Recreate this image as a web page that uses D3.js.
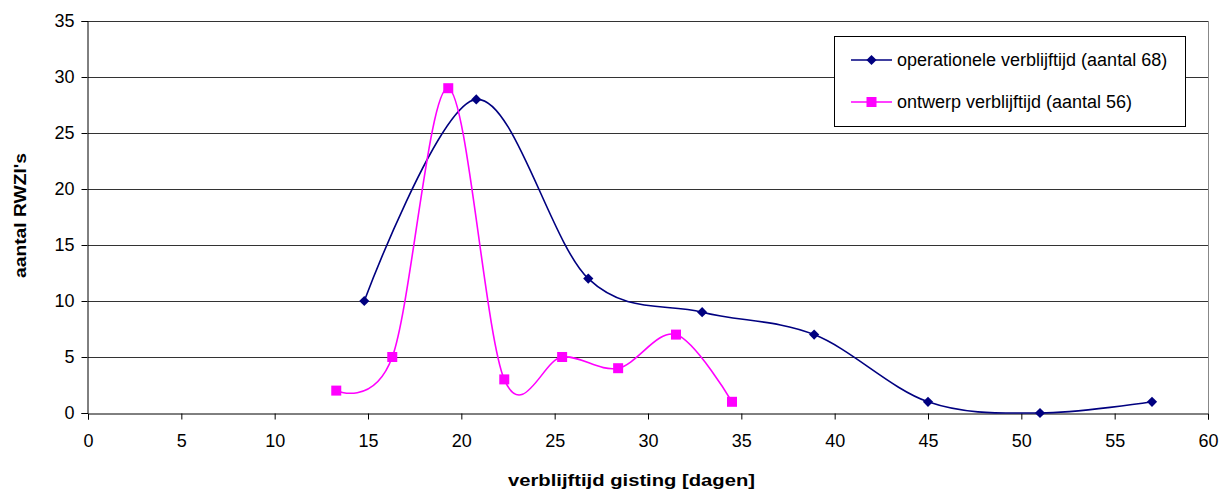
<!DOCTYPE html>
<html>
<head>
<meta charset="utf-8">
<script src="https://cdn.jsdelivr.net/npm/d3@7"></script>
<style>
  html, body { margin: 0; padding: 0; background: #fff; }
  svg { display: block; }
  text { font-family: "Liberation Sans", Arial, sans-serif; fill: #000; }
</style>
</head>
<body>
<svg id="chart" width="1230" height="492"></svg>
<script>
// ---- data ----
const opX = [14.8, 20.8, 26.8, 32.9, 38.9, 45.0, 51.0, 57.0];
const opY = [10, 28, 12, 9, 7, 1, 0, 1];
const ontX = [13.3, 16.3, 19.3, 22.3, 25.4, 28.4, 31.5, 34.5];
const ontY = [2, 5, 29, 3, 5, 4, 7, 1];
const xTicks = [0, 5, 10, 15, 20, 25, 30, 35, 40, 45, 50, 55, 60];
const yTicks = [0, 5, 10, 15, 20, 25, 30, 35];
const seriesNames = ["operationele verblijftijd (aantal 68)", "ontwerp verblijftijd (aantal 56)"];
const xTitle = "verblijftijd gisting [dagen]";
const yTitle = "aantal RWZI's";

// ---- layout ----
const svg = d3.select("#chart");
const pLeft = 88, pRight = 1208, pTop = 21, pBottom = 413;
const x = d3.scaleLinear().domain([0, 60]).range([pLeft, pRight]);
const y = d3.scaleLinear().domain([0, 35]).range([pBottom, pTop]);
const FONT = "Liberation Sans, Arial, sans-serif";

// gridlines
svg.append("g").selectAll("line").data(yTicks.filter(d => d > 0)).join("line")
  .attr("x1", pLeft).attr("x2", pRight)
  .attr("y1", d => Math.round(y(d)) + 0.5).attr("y2", d => Math.round(y(d)) + 0.5)
  .attr("stroke", "#333").attr("stroke-width", 1);

// right border of plot area
svg.append("line").attr("x1", pRight + 0.5).attr("x2", pRight + 0.5)
  .attr("y1", pTop).attr("y2", pBottom).attr("stroke", "#888").attr("stroke-width", 1);

// axes
const xAxis = d3.axisBottom(x).tickValues(xTicks).tickSize(6).tickPadding(15).tickFormat(d3.format("d"));
const gx = svg.append("g").attr("transform", `translate(0,${Math.round(pBottom) + 0.5})`).call(xAxis);
gx.select(".domain").attr("stroke", "#000");
gx.selectAll(".tick line").attr("stroke", "#000");
gx.selectAll(".tick text").attr("font-size", 18).attr("font-family", FONT);

const yAxis = d3.axisLeft(y).tickValues(yTicks).tickSize(6).tickPadding(7).tickFormat(d3.format("d"));
const gy = svg.append("g").attr("transform", `translate(${pLeft - 0.5},0)`).call(yAxis);
gy.select(".domain").attr("stroke", "#000");
gy.selectAll(".tick line").attr("stroke", "#000");
gy.selectAll(".tick text").attr("font-size", 18).attr("font-family", FONT);

// axis titles
svg.append("text").attr("x", 508).attr("y", 486)
  .attr("font-size", 17).attr("font-weight", "bold")
  .attr("textLength", 247).attr("lengthAdjust", "spacingAndGlyphs").text(xTitle);
svg.append("text").attr("transform", "translate(26,278) rotate(-90)")
  .attr("font-size", 16).attr("font-weight", "bold")
  .attr("textLength", 125).attr("lengthAdjust", "spacingAndGlyphs").text(yTitle);

// lines
const line = d3.line().x(d => x(d[0])).y(d => y(d[1])).curve(d3.curveCardinal.tension(0));
const opData = opX.map((v, i) => [v, opY[i]]);
const ontData = ontX.map((v, i) => [v, ontY[i]]);

svg.append("path").datum(opData).attr("d", line).attr("fill", "none")
  .attr("stroke", "#000080").attr("stroke-width", 1.6);
svg.append("path").datum(ontData).attr("d", line).attr("fill", "none")
  .attr("stroke", "#FF00FF").attr("stroke-width", 1.6);

const diamond = d3.symbol().type(d3.symbolSquare).size(52);
svg.append("g").selectAll("path").data(opData).join("path")
  .attr("d", diamond)
  .attr("transform", d => `translate(${x(d[0])},${y(d[1])}) rotate(45)`)
  .attr("fill", "#000080");
svg.append("g").selectAll("rect").data(ontData).join("rect")
  .attr("x", d => x(d[0]) - 5).attr("y", d => y(d[1]) - 5)
  .attr("width", 10).attr("height", 10).attr("fill", "#FF00FF");

// legend
const lg = svg.append("g");
lg.append("rect").attr("x", 834.5).attr("y", 36.5).attr("width", 351).attr("height", 90)
  .attr("fill", "#fff").attr("stroke", "#000").attr("stroke-width", 1);
const rows = [60, 102];
const colors = ["#000080", "#FF00FF"];
rows.forEach((ry, i) => {
  lg.append("line").attr("x1", 851).attr("x2", 892).attr("y1", ry).attr("y2", ry)
    .attr("stroke", colors[i]).attr("stroke-width", 1.6);
  if (i === 0) {
    lg.append("path").attr("d", diamond).attr("transform", `translate(871.5,${ry}) rotate(45)`).attr("fill", colors[i]);
  } else {
    lg.append("rect").attr("x", 866.5).attr("y", ry - 5).attr("width", 10).attr("height", 10).attr("fill", colors[i]);
  }
  lg.append("text").attr("x", 897).attr("y", ry + 6).attr("font-size", 18).attr("font-family", FONT).text(seriesNames[i]);
});
</script>
</body>
</html>
